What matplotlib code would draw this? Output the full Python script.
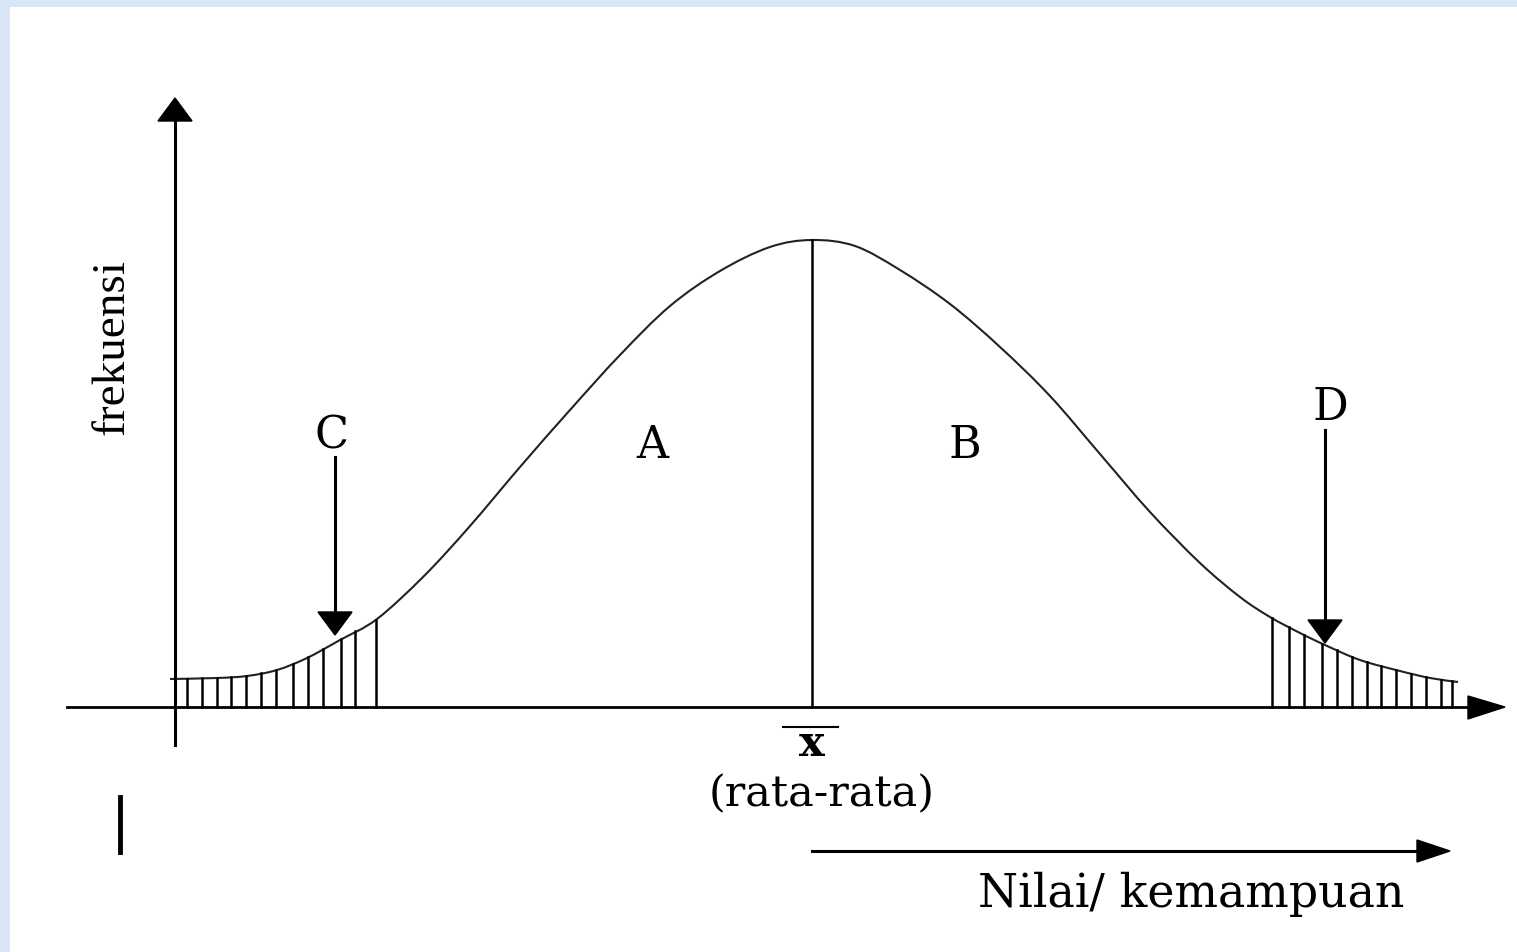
import matplotlib.pyplot as plt
from matplotlib.patches import Rectangle, Polygon, PathPatch
from matplotlib.path import Path

# kurva normal (koordinat piksel)
kurva_x = [170, 217, 247, 277, 307, 340, 377, 424, 470, 520, 570, 620, 670, 720, 770,
           812, 855, 900, 950, 1000, 1050, 1100, 1150, 1200, 1240, 1270,
           1300, 1325, 1360, 1400, 1430, 1458]
kurva_y = [679, 678, 676, 670, 658, 640, 619, 576, 526, 467, 410, 355, 306, 271, 247,
           240, 246, 270, 304, 347, 396, 454, 512, 563, 597, 617,
           633, 645, 660, 671, 678, 682]

# garis arsir di ekor kiri dan kanan
arsir_kiri = [187, 202, 217, 231, 246, 261, 276, 293, 308, 323, 341, 355, 376]
arsir_kanan = [1272, 1289, 1304, 1322, 1337, 1352, 1367, 1381, 1396, 1411, 1426, 1441, 1452]

dasar = 707
rata = 812

def tinggi(x):
    for i in range(len(kurva_x) - 1):
        if kurva_x[i] <= x <= kurva_x[i + 1]:
            t = (x - kurva_x[i]) / (kurva_x[i + 1] - kurva_x[i])
            return kurva_y[i] + t * (kurva_y[i + 1] - kurva_y[i])
    return kurva_y[-1]

def jalur_halus(xs, ys):
    # kurva bezier (catmull-rom) lewat titik-titik yang dibaca
    pts = list(zip(xs, ys))
    verts = [pts[0]]
    codes = [Path.MOVETO]
    for i in range(len(pts) - 1):
        p0 = pts[i - 1] if i > 0 else pts[i]
        p1 = pts[i]
        p2 = pts[i + 1]
        p3 = pts[i + 2] if i + 2 < len(pts) else pts[i + 1]
        c1 = (p1[0] + (p2[0] - p0[0]) / 6, p1[1] + (p2[1] - p0[1]) / 6)
        c2 = (p2[0] - (p3[0] - p1[0]) / 6, p2[1] - (p3[1] - p1[1]) / 6)
        verts += [c1, c2, p2]
        codes += [Path.CURVE4] * 3
    return Path(verts, codes)

fig = plt.figure(figsize=(15.17, 9.52), dpi=100)
fig.patch.set_facecolor('#d9e6f6')
ax = fig.add_axes([0, 0, 1, 1])
ax.set_xlim(0, 1517)
ax.set_ylim(952, 0)
ax.axis('off')
ax.add_patch(Rectangle((10, 7), 1517, 952, facecolor='white', edgecolor='none', zorder=0))

# sumbu
ax.plot([175, 175], [745, 118], color='black', lw=2.2)
ax.add_patch(Polygon([[158, 121], [192, 121], [175, 98]], closed=True, color='black'))
ax.plot([67, 1470], [dasar, dasar], color='black', lw=2.0)
ax.add_patch(Polygon([[1468, 696], [1468, 719], [1505, 707]], closed=True, color='black'))

# kurva
ax.add_patch(PathPatch(jalur_halus(kurva_x, kurva_y), facecolor='none',
                       edgecolor='#222222', lw=1.5))
ax.plot([rata, rata], [240, dasar], color='black', lw=1.8)

for x in arsir_kiri + arsir_kanan:
    ax.plot([x, x], [tinggi(x), dasar], color='black', lw=1.8)

# panah C dan D
ax.plot([335, 335], [457, 615], color='black', lw=2.2)
ax.add_patch(Polygon([[318, 612], [352, 612], [335, 635]], closed=True, color='black'))
ax.plot([1325, 1325], [430, 622], color='black', lw=2.2)
ax.add_patch(Polygon([[1308, 620], [1342, 620], [1325, 643]], closed=True, color='black'))

# panah nilai
ax.plot([812, 1420], [851, 851], color='black', lw=2.2)
ax.add_patch(Polygon([[1417, 840], [1417, 862], [1450, 851]], closed=True, color='black'))
ax.plot([120, 120], [797, 852], color='black', lw=3.5)

serif = 'DejaVu Serif'
ax.text(332, 436, 'C', fontsize=32, family=serif, ha='center', va='center')
ax.text(652, 445, 'A', fontsize=32, family=serif, ha='center', va='center')
ax.text(965, 445, 'B', fontsize=32, family=serif, ha='center', va='center')
ax.text(1330, 407, 'D', fontsize=32, family=serif, ha='center', va='center')
ax.text(812, 744, 'x', fontsize=31, family=serif, weight='bold', ha='center', va='center')
ax.plot([783, 838], [727, 727], color='black', lw=1.5)
ax.text(822, 794, '(rata-rata)', fontsize=31, family=serif,
        ha='center', va='center')
ax.text(1191, 894, 'Nilai/ kemampuan', fontsize=33, family=serif,
        ha='center', va='center')
ax.text(112, 347, 'frekuensi', fontsize=34, family='Liberation Serif', rotation=90,
        ha='center', va='center')

fig.savefig('out.png', dpi=100)
